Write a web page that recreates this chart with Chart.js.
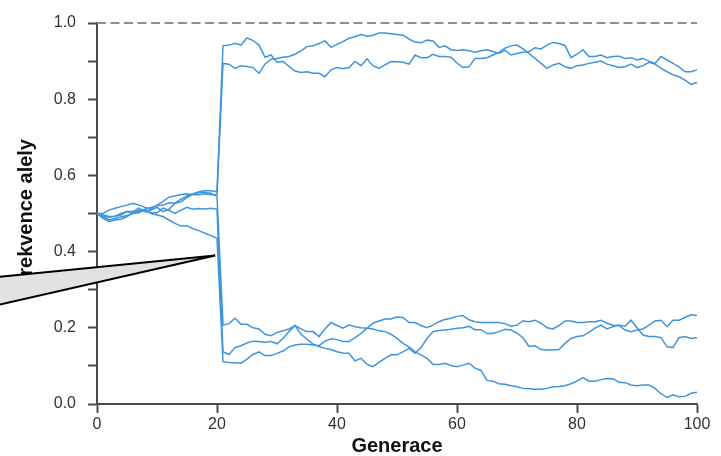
<!DOCTYPE html>
<html lang="cs">
<head>
<meta charset="utf-8">
<title>Frekvence alely</title>
<script src="https://cdn.jsdelivr.net/npm/chart.js@4.4.1/dist/chart.umd.min.js"></script>
<style>
  html, body { margin: 0; padding: 0; background: #ffffff; }
  #wrap { position: relative; width: 721px; height: 456px; }
</style>
</head>
<body>
<div id="wrap"><canvas id="driftChart" width="721" height="456"></canvas></div>
<script>
// Generace 0..100 (osa x)
const generace = Array.from({ length: 101 }, (_, i) => i);

// Frekvence alely, pět populací (gen 0-20 před zúžením, 21-100 po)
const populace1 = [
  0.500, 0.492, 0.483, 0.487, 0.491, 0.495, 0.500, 0.506, 0.511, 0.516, 0.520,
  0.522, 0.528, 0.527, 0.538, 0.546, 0.551, 0.557, 0.560, 0.560, 0.557,
  0.940, 0.942, 0.947, 0.942, 0.961, 0.954, 0.942, 0.910, 0.916, 0.897,
  0.899, 0.886, 0.874, 0.870, 0.872, 0.868, 0.868, 0.859, 0.877, 0.883,
  0.880, 0.883, 0.899, 0.888, 0.906, 0.888, 0.881, 0.890, 0.899, 0.898,
  0.897, 0.892, 0.916, 0.909, 0.909, 0.918, 0.912, 0.912, 0.910, 0.895,
  0.883, 0.885, 0.907, 0.907, 0.909, 0.916, 0.923, 0.934, 0.940, 0.942,
  0.932, 0.920, 0.907, 0.894, 0.881, 0.890, 0.894, 0.885, 0.881, 0.888,
  0.890, 0.894, 0.897, 0.900, 0.892, 0.888, 0.883, 0.885, 0.892, 0.883,
  0.888, 0.897, 0.892, 0.881, 0.872, 0.864, 0.859, 0.850, 0.839, 0.844
];
const populace2 = [
  0.500, 0.500, 0.509, 0.514, 0.518, 0.522, 0.527, 0.522, 0.516, 0.511, 0.522,
  0.532, 0.543, 0.546, 0.550, 0.551, 0.550, 0.549, 0.552, 0.549, 0.550,
  0.894, 0.892, 0.881, 0.888, 0.886, 0.883, 0.868, 0.892, 0.905, 0.907,
  0.910, 0.912, 0.918, 0.927, 0.938, 0.940, 0.946, 0.953, 0.936, 0.944,
  0.951, 0.960, 0.964, 0.970, 0.965, 0.968, 0.974, 0.974, 0.972, 0.970,
  0.968, 0.958, 0.950, 0.948, 0.955, 0.953, 0.936, 0.940, 0.930, 0.928,
  0.930, 0.927, 0.923, 0.927, 0.930, 0.925, 0.920, 0.929, 0.916, 0.920,
  0.923, 0.925, 0.935, 0.932, 0.942, 0.949, 0.946, 0.941, 0.909, 0.918,
  0.930, 0.912, 0.912, 0.916, 0.909, 0.912, 0.913, 0.907, 0.909, 0.903,
  0.907, 0.900, 0.894, 0.912, 0.903, 0.894, 0.885, 0.872, 0.872, 0.877
];
const populace3 = [
  0.500, 0.487, 0.479, 0.483, 0.485, 0.492, 0.502, 0.509, 0.505, 0.509, 0.516,
  0.505, 0.511, 0.527, 0.531, 0.542, 0.550, 0.555, 0.555, 0.553, 0.545,
  0.207, 0.211, 0.225, 0.209, 0.209, 0.200, 0.197, 0.183, 0.179, 0.188,
  0.192, 0.197, 0.206, 0.197, 0.190, 0.190, 0.177, 0.197, 0.214, 0.206,
  0.199, 0.207, 0.203, 0.200, 0.199, 0.197, 0.192, 0.190, 0.183, 0.172,
  0.159, 0.150, 0.137, 0.129, 0.120, 0.104, 0.104, 0.107, 0.101, 0.098,
  0.102, 0.107, 0.094, 0.088, 0.062, 0.060, 0.053, 0.052, 0.048, 0.045,
  0.041, 0.040, 0.039, 0.039, 0.041, 0.045, 0.046, 0.048, 0.053, 0.060,
  0.069, 0.060, 0.060, 0.064, 0.067, 0.066, 0.057, 0.056, 0.050, 0.048,
  0.050, 0.050, 0.041, 0.027, 0.017, 0.024, 0.019, 0.020, 0.028, 0.031
];
const populace4 = [
  0.500, 0.493, 0.490, 0.493, 0.496, 0.505, 0.505, 0.514, 0.505, 0.502, 0.502,
  0.514, 0.508, 0.500, 0.509, 0.516, 0.511, 0.513, 0.512, 0.514, 0.511,
  0.137, 0.130, 0.148, 0.153, 0.160, 0.165, 0.164, 0.162, 0.164, 0.158,
  0.172, 0.190, 0.206, 0.183, 0.170, 0.157, 0.151, 0.146, 0.143, 0.137,
  0.134, 0.133, 0.113, 0.120, 0.104, 0.098, 0.109, 0.120, 0.129, 0.129,
  0.137, 0.146, 0.133, 0.148, 0.172, 0.190, 0.193, 0.194, 0.196, 0.199,
  0.200, 0.204, 0.195, 0.195, 0.185, 0.185, 0.190, 0.196, 0.194, 0.186,
  0.174, 0.151, 0.153, 0.143, 0.142, 0.142, 0.143, 0.159, 0.172, 0.177,
  0.179, 0.188, 0.199, 0.207, 0.197, 0.203, 0.207, 0.204, 0.220, 0.200,
  0.181, 0.177, 0.177, 0.174, 0.150, 0.148, 0.174, 0.177, 0.172, 0.174
];
const populace5 = [
  0.500, 0.496, 0.492, 0.493, 0.500, 0.505, 0.500, 0.502, 0.511, 0.500, 0.496,
  0.492, 0.483, 0.474, 0.467, 0.468, 0.460, 0.455, 0.448, 0.442, 0.435,
  0.111, 0.109, 0.108, 0.107, 0.118, 0.130, 0.137, 0.127, 0.127, 0.133,
  0.139, 0.150, 0.155, 0.157, 0.157, 0.155, 0.153, 0.165, 0.171, 0.169,
  0.164, 0.164, 0.174, 0.185, 0.199, 0.212, 0.218, 0.223, 0.223, 0.228,
  0.227, 0.214, 0.214, 0.206, 0.200, 0.207, 0.216, 0.222, 0.225, 0.230,
  0.232, 0.221, 0.216, 0.214, 0.214, 0.214, 0.214, 0.211, 0.204, 0.207,
  0.218, 0.216, 0.220, 0.212, 0.200, 0.197, 0.206, 0.218, 0.218, 0.214,
  0.214, 0.216, 0.216, 0.220, 0.212, 0.207, 0.206, 0.194, 0.190, 0.194,
  0.197, 0.207, 0.218, 0.220, 0.203, 0.220, 0.220, 0.227, 0.234, 0.232
];
const vsechnyPopulace = [populace1, populace2, populace3, populace4, populace5];

// Fixace alely (přerušovaná čára)
const fixace = [1.0, 1.0];
const fixaceGen = [0, 100];

// Osy
const xTicks = [0, 20, 40, 60, 80, 100];
const yTicks = [0.0, 0.1, 0.2, 0.3, 0.4, 0.5, 0.6, 0.7, 0.8, 0.9, 1.0];

// Šipka (popisek) míří na bod zúžení populace
const sipkaHrot = { gen: 19.7, freq: 0.39 };

const LINE_COLOR = '#3e95dc';
const AXIS_COLOR = '#4a4a4a';
const FONT = "'Liberation Sans', Arial, sans-serif";

const datasets = vsechnyPopulace.map((vals) => ({
  data: vals.map((v, i) => ({ x: generace[i], y: v })),
  borderColor: LINE_COLOR,
  borderWidth: 1.5,
  pointRadius: 0,
  tension: 0,
  clip: false,
}));

datasets.push({
  data: fixace.map((v, i) => ({ x: fixaceGen[i], y: v })),
  borderColor: '#8f8f8f',
  borderWidth: 2,
  borderDash: [9, 4.5],
  pointRadius: 0,
  clip: false,
});

// Šedý trojúhelník šipky vykreslený přes graf
const sipkaPlugin = {
  id: 'sipka',
  afterDraw(chart) {
    const { ctx, scales } = chart;
    const tx = scales.x.getPixelForValue(sipkaHrot.gen);
    const ty = scales.y.getPixelForValue(sipkaHrot.freq);
    ctx.save();
    ctx.beginPath();
    ctx.moveTo(-2, 277);
    ctx.lineTo(tx, ty);
    ctx.lineTo(-2, 305);
    ctx.closePath();
    ctx.fillStyle = '#e2e2e2';
    ctx.fill();
    ctx.lineWidth = 2;
    ctx.strokeStyle = '#000000';
    ctx.lineJoin = 'miter';
    ctx.stroke();
    ctx.restore();
  },
};

new Chart(document.getElementById('driftChart'), {
  type: 'line',
  data: { datasets },
  options: {
    responsive: false,
    animation: false,
    events: [],
    layout: { padding: { top: 23, right: 24, left: 0, bottom: 0 } },
    plugins: {
      legend: { display: false },
      tooltip: { enabled: false },
    },
    scales: {
      x: {
        type: 'linear',
        min: 0,
        max: 100,
        afterFit: (scale) => { scale.height = 52; },
        afterBuildTicks: (scale) => { scale.ticks = xTicks.map((v) => ({ value: v })); },
        border: { display: true, color: AXIS_COLOR, width: 2 },
        grid: {
          drawOnChartArea: false,
          drawTicks: true,
          tickLength: 9,
          tickColor: AXIS_COLOR,
          tickWidth: 2,
        },
        ticks: {
          padding: 2,
          color: '#333333',
          font: { family: FONT, size: 16 },
          callback: (v) => String(v),
        },
        title: {
          display: true,
          text: 'Generace',
          color: '#111111',
          font: { family: FONT, size: 20, weight: 'bold', lineHeight: 1 },
          padding: { top: 0, bottom: 0 },
        },
      },
      y: {
        type: 'linear',
        min: 0,
        max: 1,
        afterFit: (scale) => { scale.width = 97; },
        afterBuildTicks: (scale) => { scale.ticks = yTicks.map((v) => ({ value: v })); },
        border: { display: true, color: AXIS_COLOR, width: 2 },
        grid: {
          drawOnChartArea: false,
          drawTicks: true,
          tickLength: 9,
          tickColor: AXIS_COLOR,
          tickWidth: 2,
        },
        ticks: {
          padding: 12,
          color: '#333333',
          font: { family: FONT, size: 16 },
          callback: (v, i) => (i % 2 === 0 ? Number(v).toFixed(1) : ''),
        },
        title: {
          display: true,
          text: 'Frekvence alely',
          color: '#111111',
          font: { family: FONT, size: 20, weight: 'bold', lineHeight: 1 },
          padding: { top: 16, bottom: 0 },
        },
      },
    },
  },
  plugins: [sipkaPlugin],
});
</script>
</body>
</html>
